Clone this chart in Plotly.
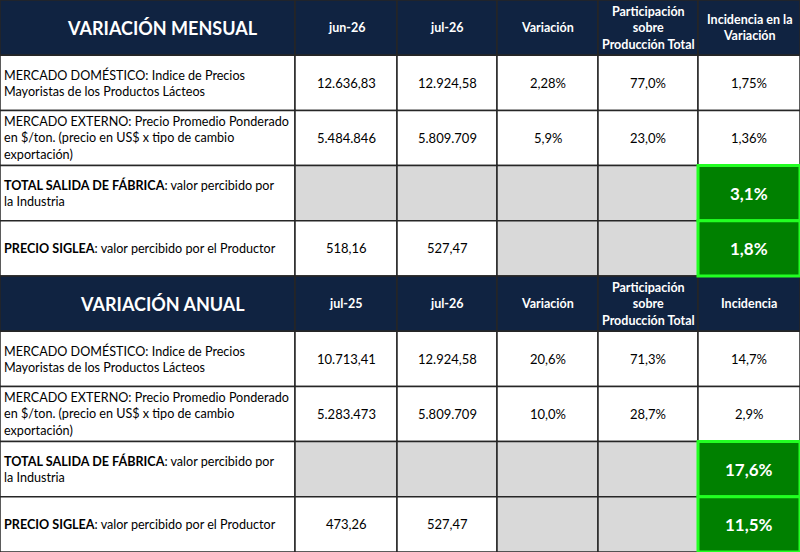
import plotly.graph_objects as go

# --- datos ---
secciones = ["VARIACIÓN MENSUAL", "VARIACIÓN ANUAL"]

filas = [
    "MERCADO DOMÉSTICO: Indice de Precios<br>Mayoristas de los Productos Lácteos",
    "MERCADO EXTERNO: Precio Promedio Ponderado<br>en $/ton. (precio en US$ x tipo de cambio<br>exportación)",
    "<b>TOTAL SALIDA DE FÁBRICA</b>: valor percibido por<br>la Industria",
    "<b>PRECIO SIGLEA</b>: valor percibido por el Productor",
]

cols_mensual = ["jun-26", "jul-26", "Variación", "Participación<br>sobre<br>Producción Total",
                "Incidencia en la<br>Variación"]
cols_anual = ["jul-25", "jul-26", "Variación", "Participación<br>sobre<br>Producción Total",
              "Incidencia"]

mensual_ant = ["12.636,83", "5.484.846", "", "518,16"]
mensual_act = ["12.924,58", "5.809.709", "", "527,47"]
mensual_var = ["2,28%", "5,9%", "", ""]
mensual_part = ["77,0%", "23,0%", "", ""]
mensual_inc = ["1,75%", "1,36%", "3,1%", "1,8%"]

anual_ant = ["10.713,41", "5.283.473", "", "473,26"]
anual_act = ["12.924,58", "5.809.709", "", "527,47"]
anual_var = ["20,6%", "10,0%", "", ""]
anual_part = ["71,3%", "28,7%", "", ""]
anual_inc = ["14,7%", "2,9%", "17,6%", "11,5%"]

# --- estilo ---
W, H = 800, 552
col_edges = [0, 295, 397, 497, 598, 698, 800]
row_h = H / 10
NAVY = "#102341"
GRIS = "#d9d9d9"
VERDE = "#008000"
LIMA = "#22ff22"
LINEA = "#262626"
FONT = "Lato"

shapes = []
annots = []
verdes = []


def celda(c, r, fill, line_color=LINEA, width=1.5):
    return dict(type="rect", xref="x", yref="y",
                x0=col_edges[c], x1=col_edges[c + 1],
                y0=r * row_h, y1=(r + 1) * row_h,
                fillcolor=fill, line=dict(color=line_color, width=width))


def texto(c, r, txt, size, color="black", bold=False, left=False, dx=0):
    xc = col_edges[c] + 2 if left else (col_edges[c] + col_edges[c + 1]) / 2
    annots.append(dict(x=xc + dx, y=(r + 0.5) * row_h, xref="x", yref="y",
                       text=f"<b>{txt}</b>" if bold else txt, showarrow=False,
                       xanchor="left" if left else "center", yanchor="middle",
                       align="left" if left else "center",
                       font=dict(family=FONT, size=size, color=color)))


bloques = [
    (secciones[0], cols_mensual, [mensual_ant, mensual_act, mensual_var, mensual_part, mensual_inc]),
    (secciones[1], cols_anual, [anual_ant, anual_act, anual_var, anual_part, anual_inc]),
]

for b, (titulo, cabeceras, valores) in enumerate(bloques):
    r0 = b * 5
    # cabecera
    for c in range(6):
        shapes.append(celda(c, r0, NAVY))
    texto(0, r0, titulo, 18, "white", bold=True, dx=15)
    for c, cab in enumerate(cabeceras):
        texto(c + 1, r0, cab, 12.5, "white", bold=True)
    # filas
    for i, fila in enumerate(filas):
        r = r0 + 1 + i
        shapes.append(celda(0, r, "white"))
        texto(0, r, fila, 12.6, left=True)
        for c, serie in enumerate(valores):
            v = serie[i]
            if c == 4 and i >= 2:
                verdes.append(celda(c + 1, r, VERDE, LIMA, 3))
                texto(c + 1, r, v, 17, "white", bold=True)
            else:
                shapes.append(celda(c + 1, r, "white" if v else GRIS))
                if v:
                    texto(c + 1, r, v, 13)

fig = go.Figure()
fig.update_layout(
    width=W, height=H,
    margin=dict(l=0, r=0, t=0, b=0),
    paper_bgcolor="white", plot_bgcolor="white",
    xaxis=dict(range=[0, W], visible=False, fixedrange=True),
    yaxis=dict(range=[H, 0], visible=False, fixedrange=True),
    shapes=shapes + verdes,
    annotations=annots,
    showlegend=False,
)
fig.write_html("out.html", config={"displayModeBar": False},
               post_script="document.body.style.margin='0';")
